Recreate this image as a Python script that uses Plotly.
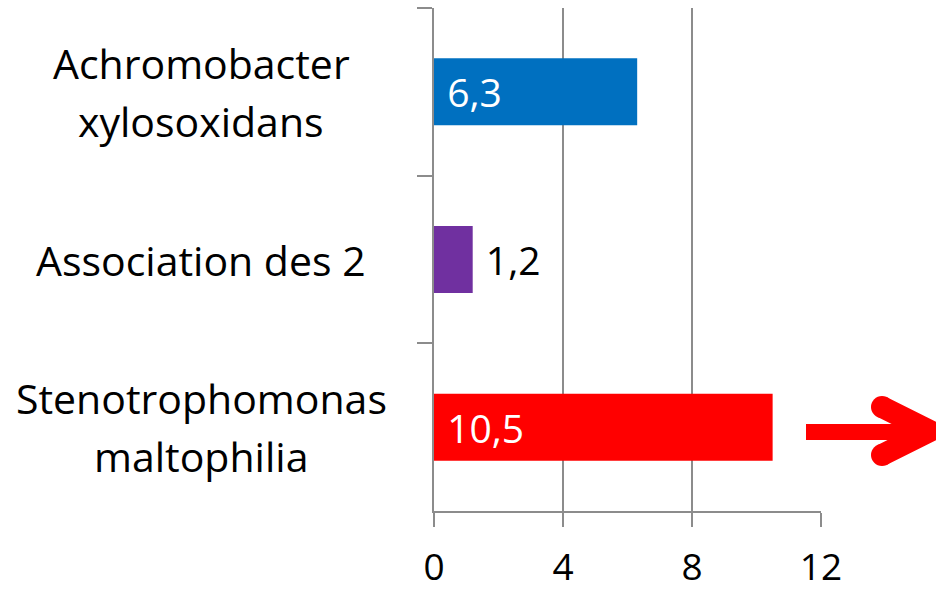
import plotly.graph_objects as go

categories = ["Achromobacter<br>xylosoxidans", "Association des 2", "Stenotrophomonas<br>maltophilia"]
values = [6.3, 1.2, 10.5]
colors = ["#0070C0", "#7030A0", "#FF0000"]
text_positions = ["inside", "outside", "inside"]
text_colors = ["white", "black", "white"]
x_ticks = [0, 4, 8, 12]
x_tick_labels = ["0", "4", "8", "12"]

W, H = 936, 594
ML, MR, MT, MB = 434, 115, 8, 83
PW, PH = W - ML - MR, H - MT - MB
FONT = "'Open Sans', Lato, sans-serif"
LINE_GAP = 58


def px(xp):
    return (xp - ML) / PW


def py(yp):
    return (H - MB - yp) / PH


labels = ["\u00a0" + f"{v:.1f}".replace(".", ",") for v in values]

fig = go.Figure(
    go.Bar(
        y=categories,
        x=values,
        orientation="h",
        marker=dict(color=colors, line=dict(width=0)),
        text=labels,
        textposition=text_positions,
        insidetextanchor="start",
        textfont=dict(color=text_colors, size=39, family=FONT),
        cliponaxis=False,
        hoverinfo="skip",
    )
)

annotations = []
for c in categories:
    lines = c.split("<br>")
    n = len(lines)
    for i, line in enumerate(lines):
        offset = ((n - 1) / 2 - i) * LINE_GAP
        annotations.append(dict(
            x=0, xref="paper", y=c, yref="y", xanchor="center", yanchor="middle",
            xshift=-233, yshift=offset, text=line, showarrow=False, align="center",
            font=dict(size=41, color="black", family=FONT),
        ))

shapes = [
    dict(type="rect", xref="paper", yref="paper",
         x0=px(806), x1=px(915), y0=py(440), y1=py(424),
         fillcolor="#FF0000", line=dict(width=0), layer="above"),
    dict(type="path", xref="paper", yref="paper",
         path=f"M {px(882)},{py(407)} L {px(930)},{py(431)} L {px(882)},{py(455)}",
         line=dict(color="#FF0000", width=22), fillcolor="rgba(0,0,0,0)", layer="above"),
    dict(type="circle", xref="paper", yref="paper",
         x0=px(871), x1=px(893), y0=py(418), y1=py(396),
         fillcolor="#FF0000", line=dict(width=0), layer="above"),
    dict(type="circle", xref="paper", yref="paper",
         x0=px(871), x1=px(893), y0=py(466), y1=py(444),
         fillcolor="#FF0000", line=dict(width=0), layer="above"),
]

fig.update_layout(
    width=W, height=H,
    margin=dict(l=ML, r=MR, t=MT, b=MB, pad=0, autoexpand=False),
    paper_bgcolor="white", plot_bgcolor="white",
    showlegend=False,
    bargap=0.6,
    separators=",.",
    annotations=annotations,
    shapes=shapes,
    font=dict(family=FONT, size=39, color="black"),
)
fig.update_xaxes(
    range=[0, 12], tickvals=x_ticks, ticktext=x_tick_labels,
    showgrid=True, gridcolor="#8c8c8c", gridwidth=1.5,
    showline=True, linecolor="#8c8c8c", linewidth=2,
    ticks="outside", ticklen=14, tickcolor="#8c8c8c", tickwidth=2,
    tickfont=dict(size=37, family=FONT, color="black"),
    ticklabelstandoff=9, automargin=False,
    zeroline=False, fixedrange=True,
)
fig.update_yaxes(
    categoryorder="array", categoryarray=categories, autorange="reversed",
    showticklabels=False, tickson="boundaries", automargin=False,
    showline=True, linecolor="#8c8c8c", linewidth=2,
    ticks="outside", ticklen=15, tickcolor="#8c8c8c", tickwidth=2,
    showgrid=False, zeroline=False, fixedrange=True,
)

fig.write_html(
    "out.html",
    config={"displayModeBar": False},
    post_script="document.body.style.margin='0';",
)
